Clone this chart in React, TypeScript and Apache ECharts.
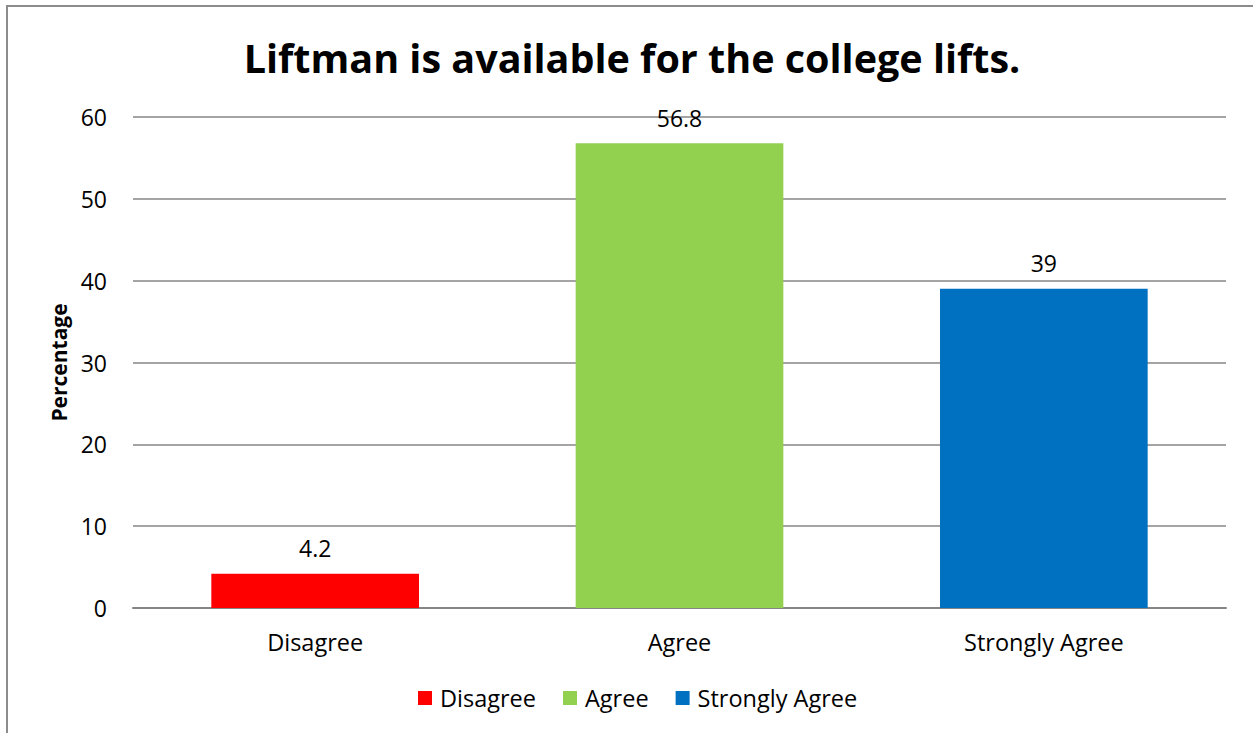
import React, { useEffect, useRef } from "react";
import * as echarts from "echarts";

const categories = ["Disagree", "Agree", "Strongly Agree"];
const disagreeValues = [4.2, "-", "-"];
const agreeValues = ["-", 56.8, "-"];
const stronglyAgreeValues = ["-", "-", 39];
const seriesColors = ["#FF0000", "#92D050", "#0070C0"];
const yTicks = { min: 0, max: 60, interval: 10 };

export default function App() {
  const ref = useRef<HTMLDivElement>(null);
  useEffect(() => {
    if (!ref.current) return;
    const chart = echarts.init(ref.current, null, { renderer: "svg" });
    const font = "'Open Sans', 'Noto Sans', sans-serif";
    const mk = (name: string, data: any[], color: string) => ({
      name,
      type: "bar",
      stack: "all",
      data,
      barWidth: "57%",
      itemStyle: { color },
      label: {
        show: true,
        position: "top",
        distance: 14,
        color: "#000",
        fontSize: 23,
        fontFamily: font,
      },
    });
    chart.setOption({
      animation: false,
      backgroundColor: "#fff",
      textStyle: { fontFamily: font },
      title: {
        text: "Liftman is available for the college lifts.",
        left: 627,
        textAlign: "center",
        top: 33,
        textStyle: { fontSize: 39.5, fontWeight: "bold", color: "#000", fontFamily: font },
      },
      graphic: [
        {
          type: "polyline",
          shape: { points: [[7, 800], [7, 6], [1300, 6]] },
          style: { stroke: "#8c8c8c", lineWidth: 2, fill: null },
        },
      ],
      legend: {
        bottom: 23,
        left: 418,
        itemWidth: 14,
        itemHeight: 14,
        itemGap: 27,
        icon: "rect",
        padding: 0,
        textStyle: { fontSize: 23.5, color: "#000", fontFamily: font, padding: [0, 0, 0, 3] },
        data: categories,
      },
      grid: { left: 133, right: 27, top: 117, bottom: 125 },
      xAxis: {
        type: "category",
        data: categories,
        axisTick: { show: false },
        axisLine: { lineStyle: { color: "#868686", width: 2 } },
        axisLabel: { color: "#000", fontSize: 23.5, margin: 22, fontFamily: font },
      },
      yAxis: {
        type: "value",
        min: yTicks.min,
        max: yTicks.max,
        interval: yTicks.interval,
        name: "Percentage",
        nameLocation: "middle",
        nameGap: 64,
        nameRotate: 90,
        nameTextStyle: { fontSize: 21, fontWeight: "bold", color: "#000", fontFamily: font },
        axisLine: { show: false },
        axisTick: { show: false },
        axisLabel: { color: "#000", fontSize: 23, margin: 26, fontFamily: font },
        splitLine: { lineStyle: { color: "#868686", width: 1.5 } },
      },
      series: [
        mk(categories[0], disagreeValues, seriesColors[0]),
        mk(categories[1], agreeValues, seriesColors[1]),
        mk(categories[2], stronglyAgreeValues, seriesColors[2]),
      ],
    });
    return () => chart.dispose();
  }, []);
  return (
    <div
      ref={ref}
      style={{ position: "fixed", left: 0, top: 0, width: 1253, height: 733 }}
    />
  );
}
